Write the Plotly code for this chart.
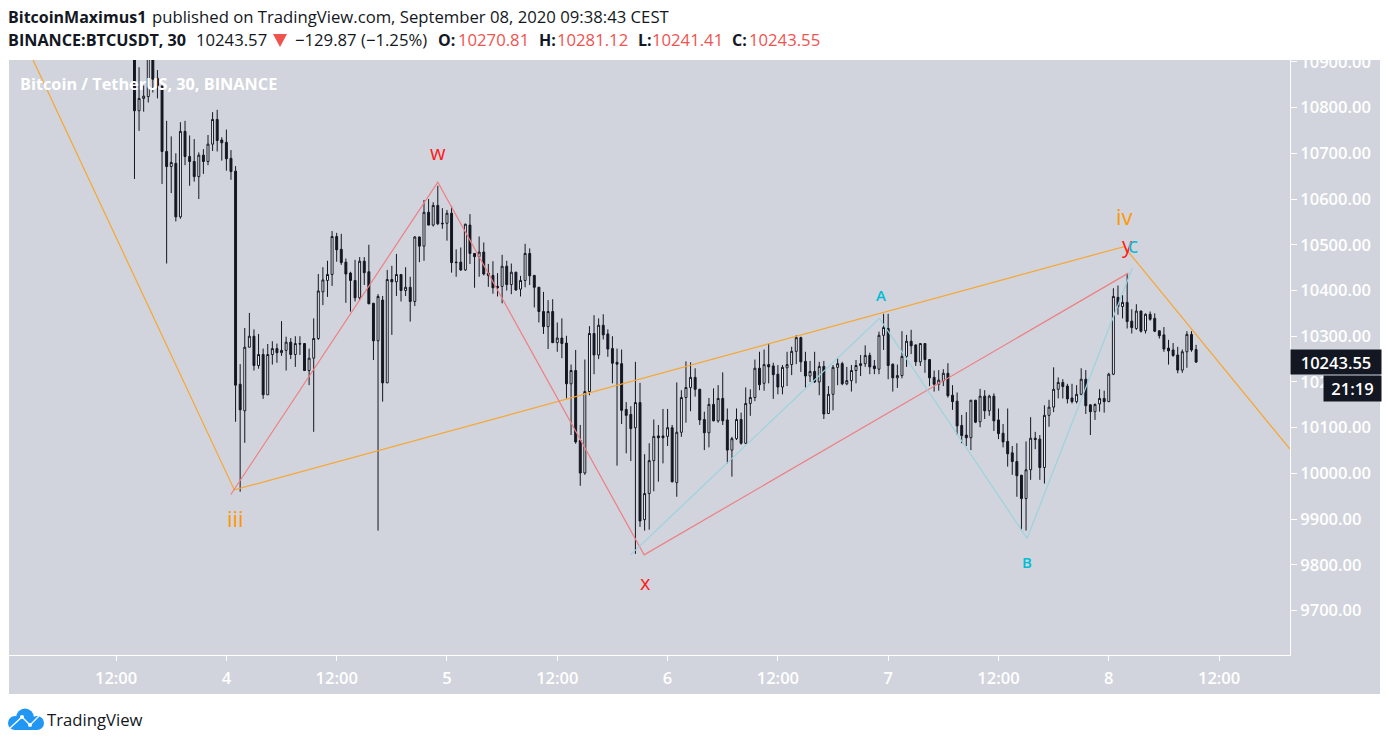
import pandas as pd
import plotly.graph_objects as go

# 30 min candles, last one opens Sep 8 09:30
opens = [
    10930, 10793, 10820, 10824, 10920, 10864, 10846, 10704, 10671, 10678, 10561, 10748, 10693, 10682, 10649, 10696, 10682, 10720, 10774, 10729, 10724, 10689, 10661,
    10195, 10137, 10276, 10300, 10236, 10260, 10172, 10260, 10273, 10264, 10269, 10287, 10260, 10284, 10284, 10225, 10252, 10295, 10397, 10422, 10435, 10518,
    10490, 10462, 10438, 10422, 10384, 10464, 10441, 10372, 10290, 10379, 10198, 10424, 10419, 10435, 10400, 10407, 10376, 10517, 10497, 10571, 10543, 10586, 10547, 10547, 10569,
    10462, 10462, 10445, 10543, 10481, 10474, 10484, 10438, 10433, 10409, 10409, 10453, 10413, 10440, 10403, 10422, 10481, 10433, 10407, 10354, 10321, 10354, 10286, 10296, 10285,
    10196, 10225, 10072, 10001, 10179, 10306, 10259, 10324, 10305, 10273, 10243, 10240, 10140, 10129, 10100, 10155, 9899, 9956, 10028, 10082, 10082, 10081, 10100, 9980, 10090,
    10166, 10188, 10210, 10184, 10118, 10089, 10151, 10115, 10164, 10117, 10051, 10076, 10118, 10066, 10153, 10166, 10230, 10197, 10238, 10235, 10217, 10189, 10231, 10238, 10267,
    10297, 10245, 10213, 10223, 10200, 10234, 10131, 10173, 10232, 10240, 10196, 10203, 10225, 10236, 10240, 10258, 10235,
    10228, 10302, 10317, 10239, 10209, 10214, 10256, 10289, 10281, 10244, 10284, 10249, 10210, 10195, 10202, 10219, 10171, 10158, 10105, 10084, 10078, 10160, 10113, 10169, 10137,
    10169, 10117, 10088, 10070, 10045, 10026, 9996, 9945, 10008, 10077, 10075, 10013, 10127, 10145, 10184, 10199, 10191, 10165, 10157, 10173, 10206, 10150, 10135,
    10152, 10164, 10157, 10217, 10385, 10365, 10374, 10333, 10317, 10355, 10312, 10348, 10339, 10312, 10303, 10274, 10270, 10259, 10226, 10266, 10304, 10270.81,
]
highs = [
    10990, 10888, 10848, 10950, 10950, 10882, 10850, 10771, 10737, 10700, 10768, 10771, 10739, 10731, 10702, 10709, 10740, 10790, 10795, 10735, 10752, 10707, 10672,
    10239, 10318, 10351, 10315, 10305, 10273, 10283, 10289, 10284, 10333, 10299, 10296, 10300, 10300, 10285, 10273, 10339, 10436, 10451, 10465, 10530, 10526,
    10524, 10470, 10441, 10467, 10473, 10473, 10500, 10373, 10392, 10388, 10445, 10454, 10480, 10436, 10451, 10430, 10519, 10518, 10598, 10600, 10593, 10629, 10580, 10576, 10585,
    10490, 10494, 10546, 10567, 10482, 10518, 10505, 10458, 10464, 10438, 10478, 10465, 10459, 10441, 10432, 10502, 10492, 10434, 10408, 10397, 10379, 10381, 10330, 10339, 10301,
    10238, 10270, 10106, 10249, 10322, 10346, 10339, 10348, 10315, 10300, 10273, 10271, 10156, 10147, 10244, 10198, 10042, 10066, 10118, 10106, 10141, 10141, 10106, 10199, 10182,
    10245, 10243, 10230, 10185, 10135, 10165, 10186, 10193, 10221, 10142, 10080, 10142, 10133, 10188, 10184, 10249, 10266, 10271, 10284, 10242, 10237, 10237, 10266, 10277, 10302,
    10299, 10266, 10246, 10266, 10244, 10246, 10191, 10237, 10253, 10244, 10233, 10237, 10248, 10259, 10280, 10264, 10248,
    10310, 10349, 10349, 10240, 10238, 10311, 10303, 10314, 10282, 10285, 10285, 10250, 10225, 10226, 10228, 10241, 10193, 10177, 10128, 10134, 10161, 10161, 10185, 10182, 10172,
    10175, 10142, 10108, 10142, 10060, 10066, 9997, 10070, 10123, 10091, 10084, 10149, 10161, 10232, 10210, 10206, 10196, 10196, 10193, 10230, 10226, 10151, 10153,
    10184, 10181, 10220, 10405, 10411, 10390, 10438, 10359, 10370, 10356, 10350, 10354, 10350, 10312, 10320, 10292, 10285, 10277, 10271, 10311, 10311, 10281.12,
]
lows = [
    10644, 10749, 10791, 10811, 10833, 10820, 10633, 10459, 10613, 10551, 10557, 10674, 10629, 10638, 10600, 10655, 10674, 10705, 10704, 10684, 10662, 10642, 10113,
    9960, 10067, 10276, 10225, 10229, 10163, 10172, 10238, 10242, 10257, 10225, 10250, 10233, 10259, 10224, 10193, 10091, 10292, 10368, 10386, 10410, 10463,
    10456, 10373, 10354, 10376, 10379, 10412, 10370, 10248, 9875, 10157, 10198, 10303, 10388, 10376, 10388, 10332, 10366, 10462, 10465, 10543, 10540, 10543, 10535, 10509, 10439,
    10430, 10443, 10443, 10458, 10406, 10430, 10433, 10408, 10393, 10387, 10372, 10400, 10392, 10400, 10387, 10407, 10412, 10363, 10330, 10305, 10272, 10285, 10266, 10252, 10164,
    10084, 10065, 9973, 9997, 10171, 10217, 10250, 10293, 10255, 10197, 10017, 10108, 10044, 10027, 9824, 9883, 9875, 9877, 9961, 9982, 10022, 10060, 9980, 9949, 10080,
    10111, 10136, 10168, 10106, 10051, 10057, 10114, 10111, 10106, 10022, 9993, 10073, 10063, 10064, 10126, 10158, 10182, 10181, 10197, 10163, 10173, 10173, 10191, 10215, 10239,
    10222, 10188, 10200, 10198, 10171, 10119, 10130, 10138, 10193, 10193, 10193, 10179, 10197, 10213, 10233, 10217, 10217,
    10217, 10270, 10206, 10179, 10187, 10208, 10233, 10261, 10235, 10235, 10220, 10191, 10179, 10181, 10191, 10166, 10139, 10084, 10066, 10060, 10051, 10110, 10101, 10119, 10126,
    10093, 10075, 10057, 10015, 9997, 9949, 9875, 9875, 9986, 10053, 9986, 9978, 10102, 10134, 10164, 10164, 10153, 10153, 10153, 10171, 10130, 10084, 10117,
    10135, 10133, 10156, 10215, 10347, 10339, 10317, 10306, 10314, 10308, 10306, 10334, 10309, 10295, 10266, 10238, 10255, 10219, 10220, 10231, 10266, 10241.41,
]
closes = [
    10793, 10820, 10825, 10930, 10862, 10848, 10704, 10671, 10680, 10561, 10748, 10693, 10682, 10649, 10696, 10682, 10720, 10774, 10728, 10723, 10688, 10660, 10193,
    10139, 10276, 10300, 10236, 10260, 10172, 10260, 10273, 10264, 10269, 10287, 10260, 10284, 10283, 10225, 10252, 10295, 10399, 10423, 10435, 10518, 10489,
    10461, 10436, 10422, 10384, 10464, 10439, 10371, 10290, 10387, 10198, 10424, 10419, 10435, 10400, 10407, 10376, 10517, 10497, 10571, 10543, 10586, 10546, 10546, 10569, 10461,
    10461, 10445, 10545, 10481, 10474, 10484, 10436, 10433, 10406, 10406, 10453, 10413, 10440, 10401, 10422, 10481, 10432, 10407, 10354, 10321, 10354, 10286, 10296, 10284, 10196,
    10225, 10069, 10001, 10179, 10306, 10259, 10324, 10303, 10272, 10241, 10239, 10138, 10127, 10098, 10155, 9896, 9956, 10028, 10081, 10078, 10078, 10100, 9982, 10090, 10166,
    10188, 10210, 10184, 10117, 10089, 10151, 10115, 10164, 10115, 10051, 10076, 10118, 10066, 10153, 10166, 10230, 10194, 10238, 10233, 10216, 10189, 10232, 10238, 10267, 10297,
    10244, 10213, 10223, 10200, 10234, 10130, 10173, 10232, 10240, 10196, 10203, 10225, 10236, 10240, 10258, 10233, 10229,
    10302, 10319, 10236, 10209, 10214, 10256, 10289, 10279, 10244, 10284, 10249, 10209, 10195, 10204, 10219, 10170, 10157, 10104, 10083, 10078, 10160, 10112, 10169, 10137, 10169,
    10115, 10087, 10069, 10043, 10026, 9995, 9945, 10008, 10077, 10074, 10013, 10127, 10145, 10184, 10199, 10190, 10163, 10157, 10173, 10206, 10148, 10135, 10151,
    10164, 10157, 10217, 10387, 10365, 10374, 10332, 10319, 10355, 10311, 10348, 10337, 10311, 10301, 10272, 10268, 10258, 10226, 10266, 10304, 10270, 10243.55,
]

times = pd.date_range(end="2020-09-08 09:30", periods=len(closes), freq="30min")

# drawn wave lines
orange_t = ["2020-09-03 02:58", "2020-09-04 00:52", "2020-09-08 01:40", "2020-09-08 19:43"]
orange_p = [10904, 9964, 10496, 10053]
red_t = ["2020-09-04 00:29", "2020-09-04 23:00", "2020-09-05 21:27", "2020-09-08 02:08"]
red_p = [9954, 10637, 9822, 10438]
blue_t = ["2020-09-05 19:58", "2020-09-06 23:03", "2020-09-07 15:07", "2020-09-08 02:34"]
blue_p = [9822, 10339, 9858, 10449]

# wave labels
label_text = ["w", "x", "y", "c", "iv", "iii", "A", "B"]
label_t = ["2020-09-04 23:02", "2020-09-05 21:33", "2020-09-08 01:59", "2020-09-08 02:38",
           "2020-09-08 01:40", "2020-09-04 00:57", "2020-09-06 23:14", "2020-09-07 15:07"]
label_p = [10702, 9762, 10499, 10499, 10563, 9902, 10390, 9806]
label_color = ["#ff1a1a", "#ff1a1a", "#ff1a1a", "#00bcd4", "#ff9800", "#ff9800", "#00bcd4", "#00bcd4"]
label_size = [20, 20, 21, 21, 22, 22, 15, 15]
label_weight = [400, 400, 400, 400, 400, 400, 600, 600]

price_ticks = [9700, 9800, 9900, 10000, 10100, 10200, 10300, 10400, 10500, 10600, 10700, 10800, 10900]
time_ticks = ["2020-09-03 12:00", "2020-09-04", "2020-09-04 12:00", "2020-09-05", "2020-09-05 12:00", "2020-09-06",
              "2020-09-06 12:00", "2020-09-07", "2020-09-07 12:00", "2020-09-08", "2020-09-08 12:00"]
time_labels = ["12:00", "4", "12:00", "5", "12:00", "6", "12:00", "7", "12:00", "8", "12:00"]

last_price = 10243.55
countdown = "21:19"

W, H = 1389, 744
ML, MR, MT, MB = 9, 9, 60, 50
PW, PH = W - ML - MR, H - MT - MB
DARK = "#131722"
PANEL = "#d1d4dc"
RED_NUM = "#ef5350"
FONT = "Open Sans"


def px_x(x):  # page pixels to paper
    return (x - ML) / PW


def px_y(y):
    return (H - MB - y) / PH


fig = go.Figure()

fig.add_trace(go.Candlestick(
    x=times, open=opens, high=highs, low=lows, close=closes,
    increasing=dict(line=dict(color=DARK, width=1), fillcolor="#ffffff"),
    decreasing=dict(line=dict(color=DARK, width=1), fillcolor=DARK),
    whiskerwidth=0,
    showlegend=False,
))

for t, p, color in [(orange_t, orange_p, "#f7a631"), (red_t, red_p, "#ee7f84"), (blue_t, blue_p, "#9cd3e0")]:
    fig.add_trace(go.Scatter(x=t, y=p, mode="lines", line=dict(color=color, width=1.2), showlegend=False))

annotations = []
for text, t, p, color, size, weight in zip(label_text, label_t, label_p, label_color, label_size, label_weight):
    annotations.append(dict(x=t, y=p, xref="x", yref="y", text=text, showarrow=False,
                            font=dict(color=color, size=size, family=FONT, weight=weight)))

# header pieces: text, left px, centre px, colour, size
header = [
    ("<b>BitcoinMaximus1</b>", 8, 17, DARK, 16),
    ("published on TradingView.com, September 08, 2020 09:38:43 CEST", 152, 17, DARK, 16.7),
    ("<b>BINANCE:BTCUSDT, 30</b>", 8, 40, DARK, 16.2),
    ("10243.57", 196, 40, DARK, 16.7),
    ("−129.87 (−1.25%)", 295, 40, DARK, 16.7),
    ("<b>O:</b>", 438, 40, DARK, 16),
    ("10270.81", 458, 40, RED_NUM, 16.7),
    ("<b>H:</b>", 539, 40, DARK, 16),
    ("10281.12", 557, 40, RED_NUM, 16.7),
    ("<b>L:</b>", 638, 40, DARK, 16),
    ("10241.41", 652, 40, RED_NUM, 16.7),
    ("<b>C:</b>", 732, 40, DARK, 16),
    ("10243.55", 749, 40, RED_NUM, 16.7),
    ("<b>Bitcoin / TetherUS, 30, BINANCE</b>", 20, 84, "#ffffff", 16.3),
    ("TradingView", 47, 719, DARK, 16.7),
]
for text, x, y, color, size in header:
    annotations.append(dict(x=px_x(x - 2), y=px_y(y), xref="paper", yref="paper", text=text, showarrow=False,
                            xanchor="left", yanchor="middle", font=dict(color=color, size=size, family=FONT)))

# price tag and countdown sit over the axis labels
annotations.append(dict(x=px_x(1381.5), y=last_price, xref="paper", yref="y", showarrow=False, text="%.2f" % last_price,
                        xanchor="right", yanchor="middle", width=88, height=22, bgcolor=DARK,
                        font=dict(color="#ffffff", size=16.5, family=FONT, weight=600)))
annotations.append(dict(x=px_x(1381.5), y=px_y(388.5), xref="paper", yref="paper", showarrow=False, text=countdown,
                        xanchor="right", yanchor="middle", width=55, height=23, bgcolor=DARK,
                        font=dict(color="#ffffff", size=16.5, family=FONT, weight=600)))

shapes = [dict(type="rect", xref="paper", yref="paper", x0=0, x1=1, y0=0, y1=1, layer="below",
               fillcolor=PANEL, line_width=0)]

# header triangle
tri = "M %f %f L %f %f L %f %f Z" % (px_x(273), px_y(34), px_x(287), px_y(34), px_x(280), px_y(47))
shapes.append(dict(type="path", xref="paper", yref="paper", path=tri, fillcolor=RED_NUM, line_width=0))

# TradingView cloud
for cx, cy, r in [(15, 723, 7), (25, 717.5, 9), (37, 723, 7)]:
    shapes.append(dict(type="circle", xref="paper", yref="paper", x0=px_x(cx - r), x1=px_x(cx + r),
                       y0=px_y(cy + r), y1=px_y(cy - r), fillcolor="#2196f3", line_width=0))
shapes.append(dict(type="rect", xref="paper", yref="paper", x0=px_x(15), x1=px_x(37), y0=px_y(730), y1=px_y(720),
                   fillcolor="#2196f3", line_width=0))
logo_path = "M %f %f L %f %f L %f %f L %f %f" % (px_x(10), px_y(728), px_x(22), px_y(717), px_x(30), px_y(725), px_x(39), px_y(716))
shapes.append(dict(type="path", xref="paper", yref="paper", path=logo_path, line=dict(color="#ffffff", width=1.3)))
for cx, cy in [(22, 717), (30, 725)]:
    shapes.append(dict(type="circle", xref="paper", yref="paper", x0=px_x(cx - 2), x1=px_x(cx + 2),
                       y0=px_y(cy + 2), y1=px_y(cy - 2), fillcolor="#ffffff", line_width=0))

tick_font = dict(color="#ffffff", size=16.5, family=FONT, weight=600)

fig.update_layout(
    width=W, height=H,
    margin=dict(l=ML, r=MR, t=MT, b=MB, pad=0),
    paper_bgcolor="#ffffff",
    plot_bgcolor=PANEL,
    showlegend=False,
    boxgap=0.4,
    annotations=annotations,
    shapes=shapes,
    xaxis=dict(
        domain=[0, 1281 / PW], range=["2020-09-03 00:21", "2020-09-08 19:43"],
        rangeslider=dict(visible=False), showgrid=False, zeroline=False,
        showline=True, linecolor="#ffffff", linewidth=1,
        ticks="outside", ticklen=5, tickcolor="#ffffff", tickwidth=1,
        tickmode="array", tickvals=time_ticks, ticktext=time_labels, tickfont=tick_font,
        ticklabelstandoff=3,
    ),
    yaxis=dict(
        domain=[39 / PH, 1], range=[9603, 10904], side="right",
        showgrid=False, zeroline=False, showline=True, linecolor="#ffffff", linewidth=1,
        ticks="outside", ticklen=6, tickcolor="#ffffff", tickwidth=1,
        tickmode="array", tickvals=price_ticks, ticktext=["%.2f" % v for v in price_ticks], tickfont=tick_font,
    ),
)

fig.write_html("out.html", config=dict(displayModeBar=False),
               post_script="document.body.style.margin='0';document.documentElement.style.overflow='hidden';")
